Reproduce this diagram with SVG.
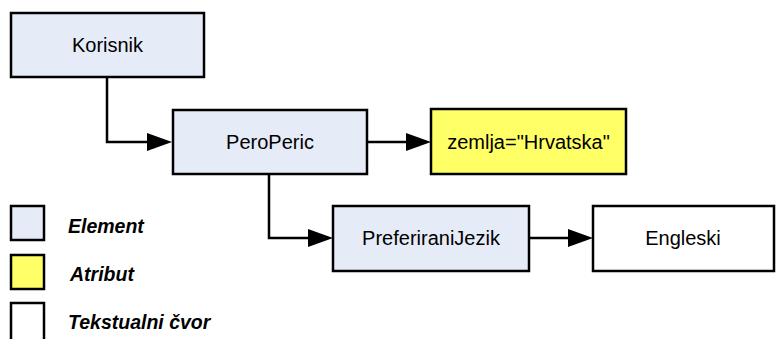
<svg xmlns="http://www.w3.org/2000/svg" width="776" height="339" viewBox="0 0 776 339">
<style>
.box{stroke:#000;stroke-width:2.5}
.el{fill:#E6ECF7}
.at{fill:#FFFF66}
.tx{fill:#FFFFFF}
.lbl{font-family:"Liberation Sans",Arial,sans-serif;font-size:20px;fill:#000;text-anchor:middle}
.leg{font-family:"Liberation Sans",Arial,sans-serif;font-size:19.5px;font-weight:bold;font-style:italic;fill:#000}
.con{fill:none;stroke:#000;stroke-width:2.5}
.head{fill:#000}
</style>
<g id="connectors">
<path class="con" d="M107,77 V142 H150"/>
<path class="head" d="M147,133 L172,142 L147,151 Z"/>
<path class="con" d="M367,142 H409"/>
<path class="head" d="M406,133 L431,142 L406,151 Z"/>
<path class="con" d="M269,174 V238 H311"/>
<path class="head" d="M308,229 L333,238 L308,247 Z"/>
<path class="con" d="M529,238 H571"/>
<path class="head" d="M568,229 L593,238 L568,247 Z"/>
</g>
<g id="korisnik">
<rect class="box el" x="11" y="13" width="193" height="64"/>
<text class="lbl" x="107.5" y="52">Korisnik</text>
</g>
<g id="peroperic">
<rect class="box el" x="173" y="110" width="194" height="64"/>
<text class="lbl" x="270" y="149">PeroPeric</text>
</g>
<g id="zemlja">
<rect class="box at" x="431" y="109" width="195" height="65"/>
<text class="lbl" x="528.5" y="149">zemlja="Hrvatska"</text>
</g>
<g id="preferiranijezik">
<rect class="box el" x="333" y="206" width="196" height="65"/>
<text class="lbl" x="431" y="245">PreferiraniJezik</text>
</g>
<g id="engleski">
<rect class="box tx" x="593" y="206" width="181" height="65"/>
<text class="lbl" x="683" y="245">Engleski</text>
</g>
<g id="legend">
<rect class="box el" x="11" y="206" width="33" height="34"/>
<text class="leg" x="68" y="233">Element</text>
<rect class="box at" x="11" y="255" width="33" height="34"/>
<text class="leg" x="70" y="281">Atribut</text>
<rect class="box tx" x="11" y="303" width="33" height="40"/>
<text class="leg" x="68" y="329">Tekstualni čvor</text>
</g>
</svg>
